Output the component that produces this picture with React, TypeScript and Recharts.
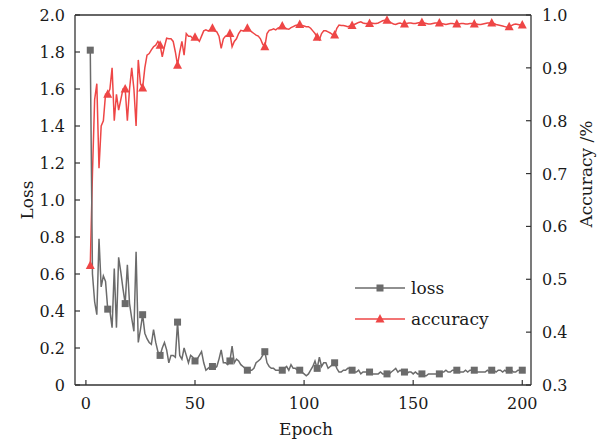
import { LineChart, Line, XAxis, YAxis, Legend, ReferenceLine } from 'recharts';

// loss per epoch, epochs 2..200
const LOSS = [
  1.81, 0.60, 0.45, 0.38, 0.79, 0.53, 0.59, 0.56, 0.41, 0.40,
  0.31, 0.63, 0.31, 0.69, 0.61, 0.52, 0.44, 0.65, 0.44, 0.36,
  0.29, 0.72, 0.23, 0.30, 0.38, 0.28, 0.25, 0.23, 0.22, 0.30,
  0.23, 0.18, 0.16, 0.20, 0.23, 0.19, 0.12, 0.16, 0.16, 0.15,
  0.34, 0.16, 0.14, 0.20, 0.16, 0.12, 0.16, 0.15, 0.13, 0.14,
  0.16, 0.18, 0.12, 0.08, 0.09, 0.10, 0.10, 0.09, 0.10, 0.14,
  0.19, 0.12, 0.12, 0.11, 0.13, 0.21, 0.12, 0.14, 0.13, 0.11,
  0.10, 0.09, 0.08, 0.08, 0.08, 0.09, 0.12, 0.13, 0.14, 0.16,
  0.18, 0.12, 0.10, 0.09, 0.09, 0.08, 0.08, 0.08, 0.08, 0.09,
  0.10, 0.08, 0.11, 0.09, 0.09, 0.08, 0.08, 0.07, 0.06, 0.05,
  0.06, 0.08, 0.10, 0.13, 0.09, 0.15, 0.10, 0.12, 0.12, 0.09,
  0.10, 0.11, 0.12, 0.09, 0.07, 0.07, 0.08, 0.08, 0.09, 0.09,
  0.08, 0.07, 0.07, 0.08, 0.06, 0.07, 0.07, 0.07, 0.07, 0.06,
  0.06, 0.06, 0.06, 0.07, 0.06, 0.06, 0.06, 0.06, 0.07, 0.08,
  0.09, 0.07, 0.08, 0.07, 0.07, 0.06, 0.07, 0.07, 0.06, 0.07,
  0.06, 0.06, 0.06, 0.05, 0.05, 0.06, 0.06, 0.06, 0.06, 0.06,
  0.06, 0.07, 0.07, 0.08, 0.07, 0.07, 0.08, 0.08, 0.08, 0.07,
  0.07, 0.07, 0.08, 0.07, 0.08, 0.08, 0.08, 0.07, 0.07, 0.07,
  0.07, 0.07, 0.08, 0.07, 0.08, 0.08, 0.07, 0.08, 0.08, 0.07,
  0.08, 0.07, 0.08, 0.08, 0.07, 0.07, 0.08, 0.08, 0.08,
];

// accuracy per epoch, epochs 2..200
const ACCURACY = [
  0.526, 0.70, 0.84, 0.87, 0.71, 0.79, 0.80, 0.85, 0.85, 0.86,
  0.90, 0.80, 0.85, 0.82, 0.84, 0.86, 0.86, 0.80, 0.86, 0.90,
  0.86, 0.79, 0.915, 0.87, 0.862, 0.90, 0.924, 0.927, 0.934, 0.94,
  0.943, 0.95, 0.943, 0.921, 0.94, 0.956, 0.955, 0.955, 0.95, 0.93,
  0.905, 0.93, 0.95, 0.924, 0.965, 0.96, 0.96, 0.955, 0.958, 0.955,
  0.95, 0.96, 0.97, 0.972, 0.97, 0.972, 0.975, 0.97, 0.968, 0.96,
  0.937, 0.955, 0.96, 0.962, 0.965, 0.94, 0.95, 0.955, 0.965, 0.971,
  0.97, 0.972, 0.975, 0.972, 0.968, 0.965, 0.962, 0.96, 0.955, 0.945,
  0.94, 0.965, 0.971, 0.972, 0.974, 0.972, 0.975, 0.977, 0.979, 0.976,
  0.974, 0.973, 0.976, 0.978, 0.98, 0.981, 0.982, 0.98, 0.979, 0.978,
  0.978, 0.975, 0.97, 0.965, 0.958, 0.953, 0.965, 0.97, 0.97, 0.968,
  0.966, 0.963, 0.962, 0.975, 0.981, 0.98, 0.98, 0.979, 0.978, 0.979,
  0.98, 0.982, 0.984, 0.986, 0.987, 0.985, 0.984, 0.984, 0.984, 0.985,
  0.984, 0.984, 0.985, 0.987, 0.989, 0.99, 0.99, 0.988, 0.985, 0.983,
  0.982, 0.984, 0.985, 0.983, 0.983, 0.984, 0.985, 0.985, 0.984, 0.984,
  0.985, 0.986, 0.986, 0.985, 0.984, 0.983, 0.983, 0.984, 0.985, 0.985,
  0.985, 0.984, 0.983, 0.982, 0.983, 0.984, 0.984, 0.983, 0.983, 0.983,
  0.984, 0.984, 0.983, 0.983, 0.984, 0.984, 0.983, 0.983, 0.982, 0.982,
  0.983, 0.984, 0.985, 0.985, 0.985, 0.984, 0.982, 0.981, 0.98, 0.979,
  0.978, 0.977, 0.978, 0.98, 0.982, 0.983, 0.982, 0.981, 0.981,
];

const FIRST_EPOCH = 2;
const EPOCHS = LOSS.map((_, i) => i + FIRST_EPOCH);

const EPOCH_TICKS = [0, 50, 100, 150, 200];
const LOSS_TICKS = [0, 0.2, 0.4, 0.6, 0.8, 1.0, 1.2, 1.4, 1.6, 1.8, 2.0];
const ACC_TICKS = [0.3, 0.4, 0.5, 0.6, 0.7, 0.8, 0.9, 1.0];
const LEGEND_ORDER = ['loss', 'accuracy'];

const data = EPOCHS.map((epoch, i) => ({ epoch, loss: LOSS[i], accuracy: ACCURACY[i] }));

const FONT = '"DejaVu Serif", serif';
const INK = '#1a1a1a';
const FRAME = '#333';
const GRAY = '#6b6b6b';
const RED = '#ee4646';

const fmt = (v: number) => (v === 0 ? '0' : v.toFixed(1));

const showMarker = (index: number) => index % 8 === 0 || index === data.length - 1;

const LeftTick = ({ x, y, payload }: any) => (
  <g>
    <line x1={x} x2={x + 5} y1={y} y2={y} stroke={FRAME} strokeWidth={1.2} />
    <text x={x - 10} y={y} dy={6} textAnchor="end" fontSize={16} fontFamily={FONT} fill={INK}>
      {fmt(payload.value)}
    </text>
  </g>
);

const RightTick = ({ x, y, payload }: any) => (
  <g>
    <line x1={x} x2={x - 5} y1={y} y2={y} stroke={FRAME} strokeWidth={1.2} />
    <text x={x + 11} y={y} dy={6} textAnchor="start" fontSize={16} fontFamily={FONT} fill={INK}>
      {fmt(payload.value)}
    </text>
  </g>
);

const BottomTick = ({ x, y, payload }: any) => (
  <g>
    <line x1={x} x2={x} y1={y} y2={y - 5} stroke={FRAME} strokeWidth={1.2} />
    <text x={x} y={y} dy={24} textAnchor="middle" fontSize={16} fontFamily={FONT} fill={INK}>
      {payload.value}
    </text>
  </g>
);

const SquareDot = (props: any) => {
  const { cx, cy, index } = props;
  if (!showMarker(index)) return <g key={`s${index}`} />;
  return <rect key={`s${index}`} x={cx - 3.5} y={cy - 3.5} width={7} height={7} fill={GRAY} />;
};

const TriangleDot = (props: any) => {
  const { cx, cy, index } = props;
  if (!showMarker(index)) return <g key={`t${index}`} />;
  return (
    <polygon
      key={`t${index}`}
      points={`${cx},${cy - 5} ${cx - 4.5},${cy + 3.5} ${cx + 4.5},${cy + 3.5}`}
      fill={RED}
    />
  );
};

const renderLegend = ({ payload }: any) => {
  const items = [...(payload || [])].sort(
    (a: any, b: any) => LEGEND_ORDER.indexOf(a.dataKey) - LEGEND_ORDER.indexOf(b.dataKey)
  );
  return (
    <div style={{ fontFamily: FONT, fontSize: 17, color: INK }}>
      {items.map((entry: any) => (
        <div key={entry.value} style={{ display: 'flex', alignItems: 'center', height: 31 }}>
          <svg width={50} height={12}>
            <line x1={0} x2={50} y1={6} y2={6} stroke={entry.color} strokeWidth={1.5} />
            {entry.dataKey === 'loss' ? (
              <rect x={21.5} y={2.5} width={7} height={7} fill={GRAY} />
            ) : (
              <polygon points="25,1 20.5,9.5 29.5,9.5" fill={RED} />
            )}
          </svg>
          <span style={{ marginLeft: 6 }}>{entry.value}</span>
        </div>
      ))}
    </div>
  );
};

const leftTitle = ({ viewBox }: any) => {
  const cx = viewBox.x + 27;
  const cy = 200;
  return (
    <text x={cx} y={cy} transform={`rotate(-90, ${cx}, ${cy})`} textAnchor="middle" dominantBaseline="central"
      fontSize={17} fontFamily={FONT} fill={INK}>Loss</text>
  );
};

const rightTitle = ({ viewBox }: any) => {
  const cx = viewBox.x + 55;
  const cy = 174;
  return (
    <text x={cx} y={cy} transform={`rotate(-90, ${cx}, ${cy})`} textAnchor="middle" dominantBaseline="central"
      fontSize={17} fontFamily={FONT} fill={INK}>Accuracy /%</text>
  );
};

const bottomTitle = ({ viewBox }: any) => {
  const cx = viewBox.x + viewBox.width / 2 + 3;
  const cy = viewBox.y + 44;
  return (
    <text x={cx} y={cy} textAnchor="middle" dominantBaseline="central" fontSize={17} fontFamily={FONT} fill={INK}>
      Epoch
    </text>
  );
};

export default function App() {
  return (
    <div style={{ position: 'absolute', left: 0, top: 0, width: 607, height: 443, background: '#fff' }}>
      <LineChart width={607} height={443} data={data} margin={{ top: 15, right: 0, bottom: 0, left: 0 }}>
        <XAxis
          dataKey="epoch"
          type="number"
          domain={[-5, 204]}
          ticks={EPOCH_TICKS}
          allowDataOverflow
          height={58}
          tickSize={0}
          tickMargin={0}
          tickLine={false}
          axisLine={{ stroke: FRAME, strokeWidth: 1.3 }}
          tick={BottomTick}
          label={{ content: bottomTitle }}
        />
        <YAxis
          yAxisId="left"
          domain={[0, 2]}
          ticks={LOSS_TICKS}
          width={75}
          tickSize={0}
          tickMargin={0}
          tickLine={false}
          axisLine={{ stroke: FRAME, strokeWidth: 1.3 }}
          tick={LeftTick}
          label={{ content: leftTitle }}
        />
        <YAxis
          yAxisId="right"
          orientation="right"
          domain={[0.3, 1.0]}
          ticks={ACC_TICKS}
          width={76}
          tickSize={0}
          tickMargin={0}
          tickLine={false}
          axisLine={{ stroke: FRAME, strokeWidth: 1.3 }}
          tick={RightTick}
          label={{ content: rightTitle }}
        />
        <ReferenceLine yAxisId="left" y={2} stroke={FRAME} strokeWidth={1.3} />
        <Legend
          layout="vertical"
          align="center"
          verticalAlign="middle"
          content={renderLegend}
          wrapperStyle={{ left: 355, top: 272, width: 160 }}
        />
        <Line
          yAxisId="right"
          dataKey="accuracy"
          name="accuracy"
          stroke={RED}
          strokeWidth={1.5}
          dot={TriangleDot}
          activeDot={false}
          isAnimationActive={false}
        />
        <Line
          yAxisId="left"
          dataKey="loss"
          name="loss"
          stroke={GRAY}
          strokeWidth={1.5}
          dot={SquareDot}
          activeDot={false}
          isAnimationActive={false}
        />
      </LineChart>
    </div>
  );
}
